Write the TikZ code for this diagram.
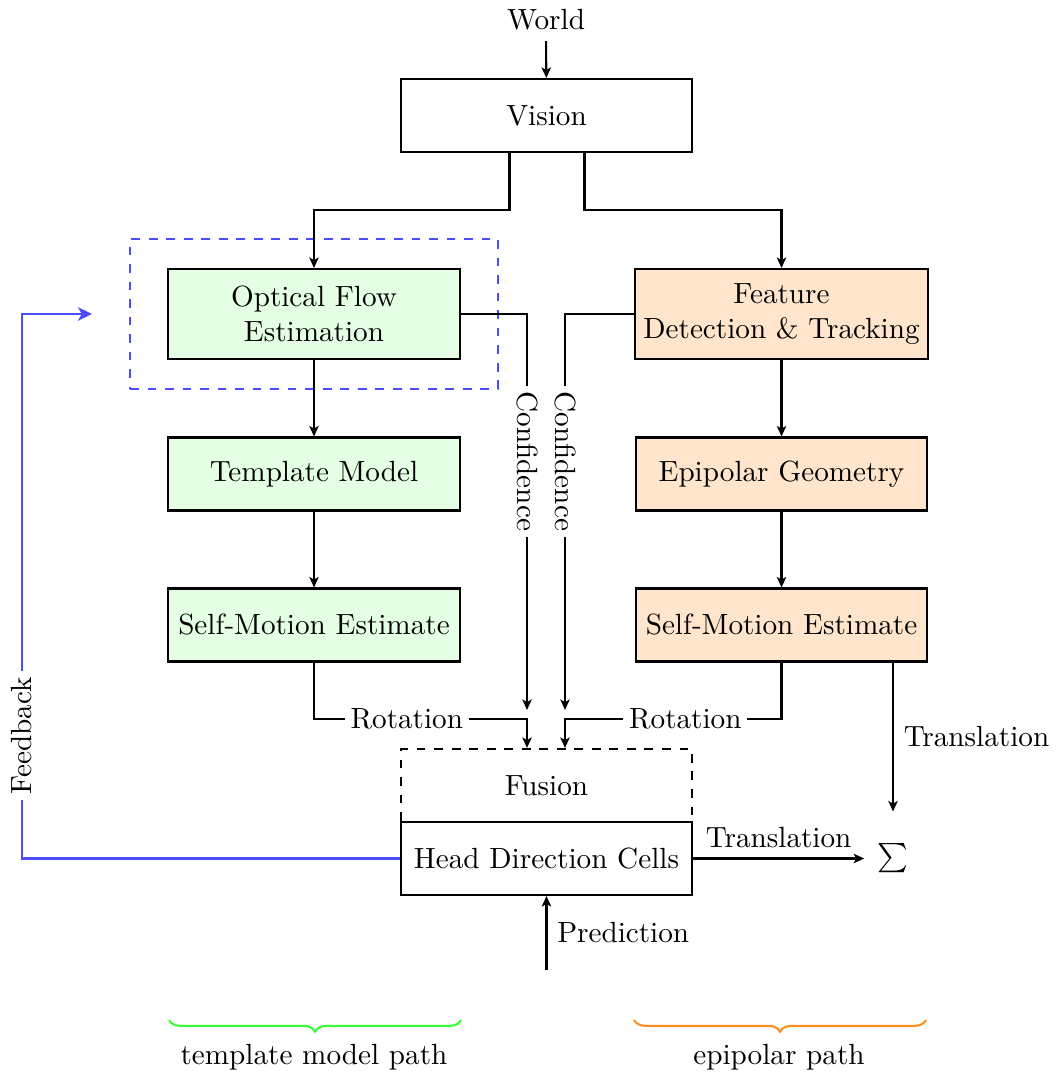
\documentclass[tikz,border=0pt]{standalone}
\usetikzlibrary{arrows.meta,calc,decorations.pathreplacing}
\begin{document}
\begin{tikzpicture}[x=0.3425pt,y=-0.3425pt,
  line width=0.7pt,
  box/.style={draw, line width=0.7pt, minimum width=99.7pt, minimum height=25pt, align=center, inner sep=3pt},
  tmpl/.style={box, fill=green!10},
  epi/.style={box, fill=orange!20},
  arr/.style={line width=0.7pt, -{Stealth[length=3.6pt,width=3.2pt,inset=0.9pt]}},
  fb/.style={blue!70, line width=1pt, -{Stealth[length=4.8pt,width=4.6pt,inset=1.3pt]}},
  lbl/.style={fill=white, inner sep=2pt},
  conf/.style={fill=white, inner sep=2pt, rotate=-90},
  bracestyle/.style={decorate, decoration={brace, mirror, amplitude=4pt}, line width=0.7pt}]
\useasboundingbox (0,0) rectangle (1061,1074);

% sensory input and vision stage
\node (world) at (546,20) {World};
\node[box] (vision) at (546.5,115.5) {Vision};

% template model pathway
\node[draw=blue!70, dashed, line width=0.7pt, minimum width=126pt, minimum height=51.4pt] (focus) at (314,314) {};
\node[tmpl, minimum height=30.8pt] (optical) at (314,314) {Optical Flow\\Estimation};
\node[tmpl] (template) at (314,474) {Template Model};
\node[tmpl] (sml) at (314,625) {Self-Motion Estimate};

% epipolar pathway
\node[epi, minimum height=30.8pt] (feature) at (781.5,314) {Feature\\Detection \& Tracking};
\node[epi] (epipolar) at (781.5,474) {Epipolar Geometry};
\node[epi] (smr) at (781.5,625) {Self-Motion Estimate};

% integration stage
\node[box, dashed] (fusion) at (546.5,785.5) {Fusion};
\node[box, fill=white] (hdc) at (546.5,858.5) {Head Direction Cells};
\node[minimum width=19pt, minimum height=31.5pt, inner sep=0pt] (sigma) at (893,858.5) {$\sum$};

% free ends of connectors
\coordinate (cl) at (527,710);
\coordinate (cr) at (565,710);
\coordinate (rl) at (527,719);
\coordinate (rr) at (565,719);
\coordinate (pred) at (546.5,970);
\coordinate (fbc) at (22,314);
\coordinate (fbend) at (92,314);

% connectors
\draw[arr] (world) -- (vision);
\draw[arr] ($(vision.south)+(-37,0)$) -- ++(0,57) -| (optical.north);
\draw[arr] ($(vision.south)+(38,0)$) -- ++(0,57) -| (feature.north);
\draw[arr] (optical) -- (template);
\draw[arr] (template) -- (sml);
\draw[arr] (feature) -- (epipolar);
\draw[arr] (epipolar) -- (smr);

\draw[arr] (optical.east) -| (cl) node[pos=0.686, conf] {Confidence};
\draw[arr] (feature.west) -| (cr) node[pos=0.686, conf] {Confidence};

\draw[arr] (sml.south) |- (rl) node[pos=0.718, lbl] {Rotation} -- (rl |- fusion.north);
\draw[arr] (smr.south) |- (rr) node[pos=0.722, lbl] {Rotation} -- (rr |- fusion.north);

\draw[arr] ($(smr.south)+(111.5,0)$) -- (sigma.north) node[midway, right] {Translation};
\draw[arr] (hdc.east) -- (sigma.west) node[midway, above] {Translation};
\draw[arr] (pred) -- (hdc.south) node[midway, right] {Prediction};

\draw[fb] (hdc.west) -| (fbc) node[pos=0.613, lbl, rotate=90, text=black] {Feedback} -- (fbend);

% pathway braces
\draw[bracestyle, green!80] (169,1020) -- (461,1020);
\node (tpath) at (314,1057) {template model path};
\draw[bracestyle, orange!90] (634,1020) -- (926,1020);
\node (epath) at (779,1057) {epipolar path};
\end{tikzpicture}
\end{document}
